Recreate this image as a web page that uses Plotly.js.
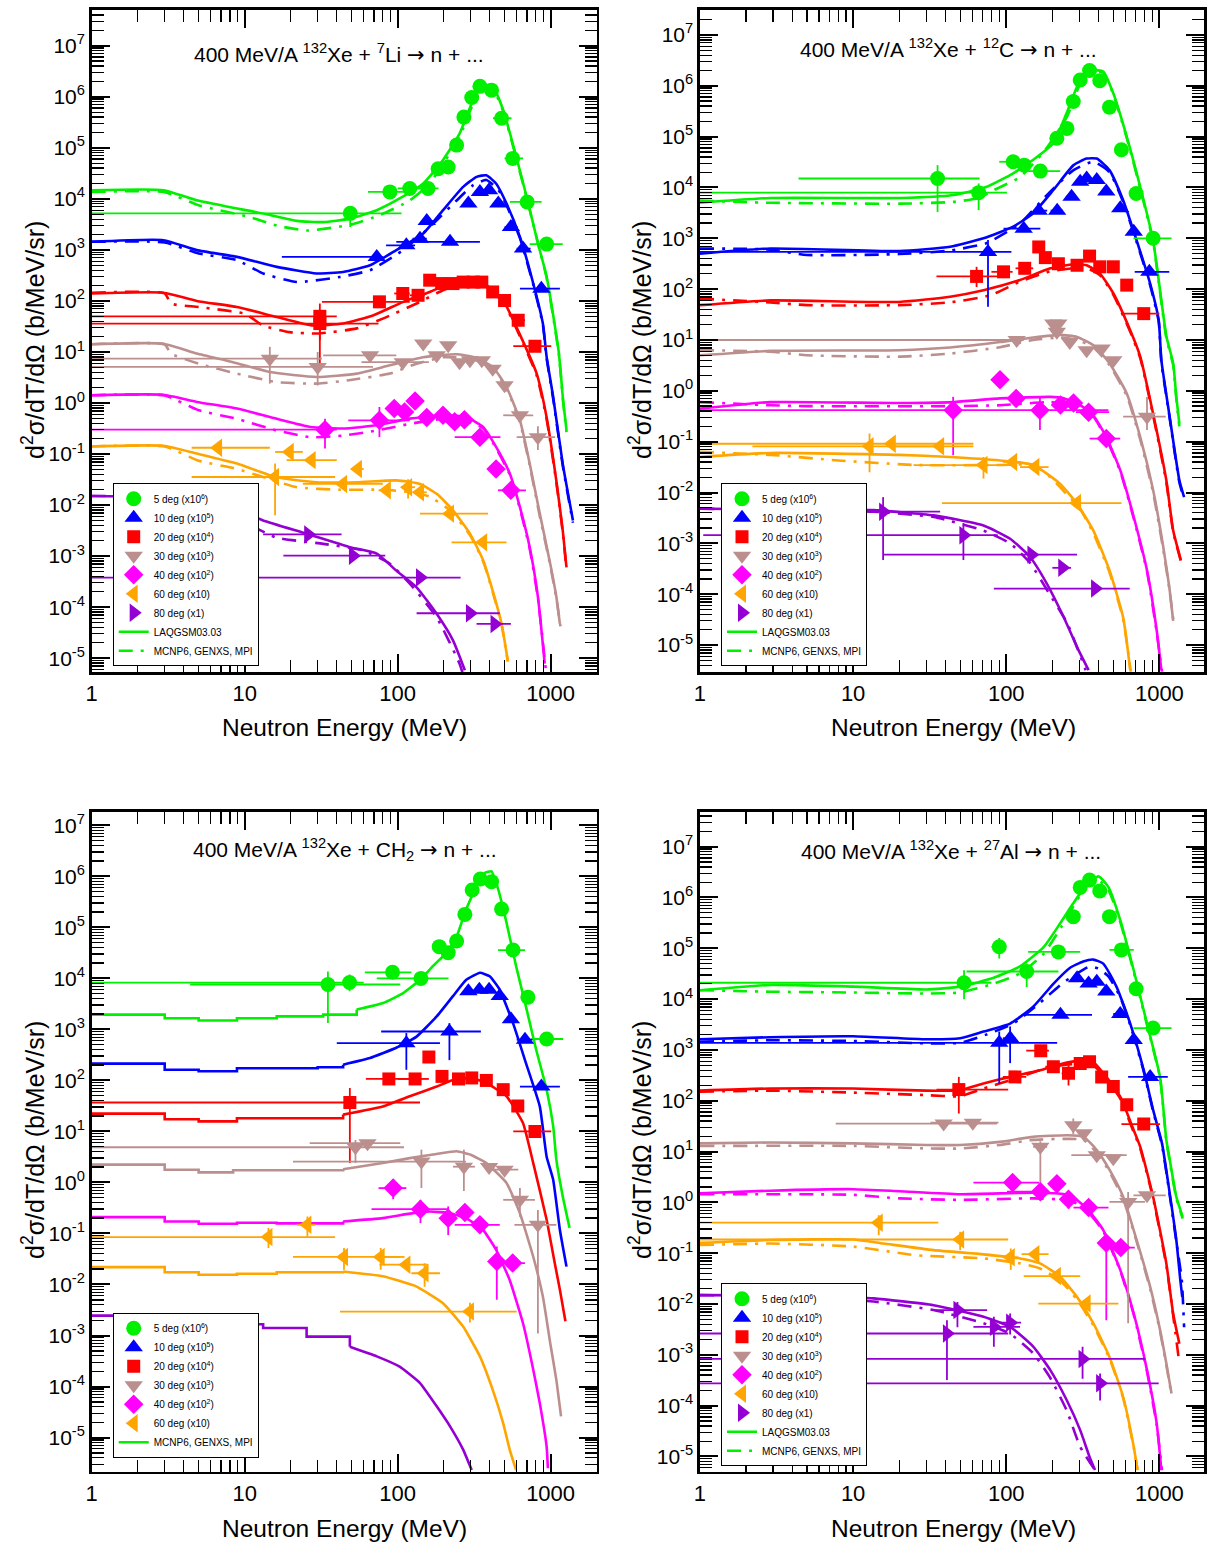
<!DOCTYPE html>
<html><head><meta charset="utf-8">
<script src="https://cdn.plot.ly/plotly-3.0.1.min.js"></script>
<style>html,body{margin:0;padding:0;background:#fff;}#chart{width:1210px;height:1543px;}</style>
</head><body><div id="chart"></div>
<script>
// ---------- tick labels ----------
const X_TICKS = [1, 10, 100, 1000];
const X_TICK_TEXT = ['1', '10', '100', '1000'];
const Y_TICKS = [1e-5,1e-4,1e-3,1e-2,1e-1,1,1e1,1e2,1e3,1e4,1e5,1e6,1e7];
const Y_TICK_TEXT = ['10<sup>-5</sup>','10<sup>-4</sup>','10<sup>-3</sup>','10<sup>-2</sup>','10<sup>-1</sup>','10<sup>0</sup>','10<sup>1</sup>','10<sup>2</sup>','10<sup>3</sup>','10<sup>4</sup>','10<sup>5</sup>','10<sup>6</sup>','10<sup>7</sup>'];
const SERIES_LABELS = ['5 deg (x10<sup>6</sup>)','10 deg (x10<sup>5</sup>)','20 deg (x10<sup>4</sup>)','30 deg (x10<sup>3</sup>)','40 deg (x10<sup>2</sup>)','60 deg (x10)','80 deg (x1)'];
const ARROW = '<span style="font-family:DejaVu Sans">→</span>';
const PANEL_TITLES = ['400 MeV/A <sup>132</sup>Xe + <sup>7</sup>Li ' + ARROW + ' n + ...','400 MeV/A <sup>132</sup>Xe + <sup>12</sup>C ' + ARROW + ' n + ...','400 MeV/A <sup>132</sup>Xe + CH<sub>2</sub> ' + ARROW + ' n + ...','400 MeV/A <sup>132</sup>Xe + <sup>27</sup>Al ' + ARROW + ' n + ...'];

// ---------- data: rows [E, value, E_low, E_high, value_low, value_high] ----------
// 7Li
const LI_D5 = [[49,5.2e3,1,106,2.8e3,6.9e3],[89,1.37e4,64,120],[120,1.6e4,100,145],[158,1.6e4,135,185],[184,3.9e4,165,200],[214,4.2e4,195,235],[243,1.13e5,225,265],[271,4.0e5,255,290],[305,9.7e5,285,330],[345,1.6e6,320,375],[411,1.35e6,380,445],[478,3.8e5,420,555],[565,6.2e4,500,660],[703,8.7e3,542,873],[942,1.3e3,730,1200]];
const LI_D10 = [[73,730,17.5,80],[114,1.23e3,84,130],[140,1.66e3,125,155],[155,3.7e3,145,170],[220,1.44e3,98,345],[290,8.1e3,270,310],[345,1.37e4,320,370],[396,1.48e4,370,420],[455,8.1e3,425,490],[550,2.8e3,500,610],[660,1.06e3,600,740],[870,174,630,1150]];
const LI_D20 = [[31,50,1,40,17,89],[31,36,1,75,5,50],[76,96,32,120],[108,140,95,120],[136,129,120,150],[162,255,150,175],[194,219,180,210],[230,219,210,250],[268,234,250,290],[312,234,290,335],[355,234,335,375],[418,150,390,450],[500,102,460,540],[614,42,560,680],[790,13,570,1010]];
const LI_D30 = [[14.6,7.4,1,32,2.4,12.6],[30,5.1,1,69,2.2,10],[66,8.6,32.6,98],[108,6.3,58,160],[147,14.6,135,160],[180,8.6,160,200],[214,13.5,200,230],[254,6.3,235,275],[297,6.9,275,320],[355,6.9,330,380],[418,4.7,390,450],[500,2.24,460,540],[630,0.575,490,770],[826,0.214,600,1070,0.12,0.35]];
const LI_D40 = [[33.5,0.30,1,40,0.128,0.49],[76,0.457,47.6,120,0.215,0.835],[95,0.78,88,105],[111,0.67,100,125],[130,1.1,120,140],[155,0.52,140,170],[198,0.575,175,220],[236,0.43,220,255],[273,0.47,255,295],[345,0.214,236,470],[440,0.051,400,485],[550,0.0195,453,690]];
const LI_D60 = [[6.7,0.133,4.5,14.6],[19.7,0.11,15.8,24],[27.4,0.076,18.8,40],[55,0.051,50,60],[15.8,0.0355,4.5,39,0.0063,0.065],[44,0.026,24,80],[85,0.0195,75,95],[117,0.0224,105,130,0.0135,0.032],[140,0.0178,125,155],[220,6.8e-3,140,390],[362,1.86e-3,225,515]];
const LI_D80 = [[26,2.66e-3,13.2,43],[51,1.02e-3,17.9,83],[140,3.8e-4,1,258],[297,7.6e-5,133,465],[430,4.7e-5,328,550]];
const LI_L5 = [[1,1.47e4],[2.94,1.48e4],[4.86,9.4e3],[13.9,5.0e3],[21.9,3.7e3],[32.6,3.5e3],[48.7,4.1e3],[73,6.0e3],[108,1.1e4],[147,2.0e4],[198,5.8e4],[254,1.9e5],[312,8.7e5],[362,1.7e6],[418,1.6e6],[490,5.5e5],[581,9.0e4],[697,1.1e4],[826,1.35e3],[942,300],[1130,10],[1208,1.1],[1271,0.29]];
const LI_L10 = [[1,1.44e3],[2.94,1.55e3],[4.86,990],[8.9,730],[16.2,465],[29.5,345],[44,370],[66,500],[98,990],[147,2.1e3],[198,6.0e3],[268,1.72e4],[328,2.7e4],[380,2.9e4],[440,2.0e4],[515,8.1e3],[630,1.8e3],[770,220],[890,36],[942,8],[1040,1.3],[1200,0.065],[1400,5e-3]];
const LI_L20 = [[1,140],[2.94,145],[4.86,100],[8.9,76],[16.2,48.5],[28,33],[44,36],[69,52],[108,95],[162,150],[230,234],[297,263],[380,204],[490,102],[600,30],[810,3.8],[940,0.54],[1090,0.03],[1200,3.2e-3],[1270,6e-4]];
const LI_L30 = [[1,14.2],[2.94,14.5],[4.86,9.3],[8.4,6.3],[14.6,4.05],[29.5,3.24],[54,3.77],[89,5.5],[147,7.9],[243,9.0],[318,7.9],[418,5.1],[515,2.04],[630,0.46],[730,0.065],[850,6.8e-3],[995,7e-4],[1090,1.6e-4],[1150,4.7e-5]];
const LI_L40 = [[1,1.42],[2.94,1.45],[4.86,1.05],[8.9,0.78],[16.2,0.49],[27,0.34],[44,0.316],[73,0.366],[120,0.494],[198,0.575],[280,0.53],[362,0.34],[440,0.138],[540,0.042],[630,9.1e-3],[730,1.5e-3],[826,1.6e-4],[915,7.8e-6]];
const LI_L60 = [[1,0.141],[2.94,0.145],[4.86,0.102],[8.9,0.065],[16.2,0.035],[29.5,0.028],[54,0.028],[98,0.0305],[140,0.026],[180,0.0166],[230,7.9e-3],[297,2.75e-3],[362,8.3e-4],[418,2.1e-4],[478,4.7e-5],[525,8.9e-6]];
const LI_L80 = [[1,0.0151],[3,0.0141],[5,0.011],[10,7e-3],[13.2,5.0e-3],[25.4,2.75e-3],[48.7,1.5e-3],[73,1.12e-3],[98,5.2e-4],[133,2.45e-4],[180,7.4e-5],[230,2.24e-5],[275,5.8e-6]];
const LI_M5 = [[1,1.37e4],[3,1.35e4],[5,7.5e3],[10.8,4.4e3],[16.2,3.0e3],[25.4,2.4e3],[48.7,3.1e3],[76.5,4.8e3],[120,9.3e3],[162,2.0e4],[200,5.0e4],[255,1.7e5],[310,7.0e5],[360,1.4e6],[415,1.5e6],[490,5.2e5],[580,8.5e4],[700,1.0e4],[830,1.3e3],[940,290],[1130,9.5],[1210,1.0],[1270,0.27]];
const LI_M10 = [[1,1.44e3],[3,1.4e3],[5,850],[8.9,630],[13.2,345],[21.9,235],[42,295],[66,400],[108,980],[162,2.8e3],[243,9.3e3],[312,1.86e4],[380,2.35e4],[455,1.5e4],[515,7.5e3],[630,1.7e3],[770,210],[890,34],[942,7.5],[1040,1.2],[1200,0.06],[1400,4.5e-3]];
const LI_M20 = [[1,145],[3,140],[3.3,89],[5,76],[10,56],[13.2,33],[19.7,24.5],[30,23],[54,29],[80,45],[133,89],[198,162],[268,219],[330,200],[380,185],[490,95],[600,28],[810,3.5],[940,0.5],[1090,0.028],[1200,3e-3],[1270,5.5e-4]];
const LI_M30 = [[1,14.2],[3,14],[3.3,9.3],[5,5.9],[8.9,3.77],[16.2,2.57],[30,2.4],[48,2.8],[89,3.77],[133,5.9],[200,7.9],[300,7.4],[418,4.8],[515,1.9],[630,0.42],[730,0.06],[850,6e-3],[995,6.5e-4],[1090,1.5e-4],[1160,4.2e-5]];
const LI_M40 = [[1,1.42],[3,1.4],[5,0.72],[8.9,0.49],[16.2,0.29],[27,0.214],[44,0.23],[73,0.29],[120,0.39],[198,0.49],[270,0.46],[362,0.32],[440,0.13],[540,0.04],[630,8.5e-3],[730,1.4e-3],[826,1.5e-4],[930,6e-6]];
const LI_M60 = [[1,0.141],[3,0.14],[5,0.074],[8.9,0.051],[13.2,0.0355],[21.9,0.0224],[42,0.02],[80,0.02],[120,0.018],[160,0.0148],[220,7.9e-3],[297,2.6e-3],[362,7.9e-4],[418,2e-4],[478,4.5e-5],[525,8.5e-6]];
const LI_M80 = [[1,0.0151],[3,0.014],[5,9.5e-3],[10,4.5e-3],[16.2,2.3e-3],[32.6,1.74e-3],[59.5,1.29e-3],[89,7.1e-4],[120,2.9e-4],[180,6.3e-5],[254,7.8e-6],[280,3e-6]];

// 12C
const C_D5 = [[35.6,1.5e4,4.4,67,3.3e3,2.75e4],[66,7.9e3,1,101,3.6e3,1.2e4],[111,3.2e4,90,125],[131,2.75e4,120,145],[167,2.1e4,136,225],[214,9.3e4,200,230],[249,1.45e5,235,265],[274,4.9e5,260,290],[304,1.3e6,290,320],[350,2.0e6,330,370],[408,1.26e6,385,430],[472,3.8e5,450,495],[565,5.5e4,530,600],[705,7.6e3,660,750],[910,1.0e3,677,1200]];
const C_D10 = [[76,540,1,108,45,930],[130,1.55e3,96,167],[163,3.5e3,150,185],[215,3.5e3,195,235],[267,6.6e3,245,285],[304,1.29e4,285,320],[335,1.5e4,320,355],[390,1.4e4,365,415],[450,8.3e3,420,480],[555,3.9e3,520,590],[680,1.35e3,640,720],[860,219,690,1160]];
const C_D20 = [[64,178,35,92,110,275],[96,219,80,110],[132,257,115,150],[163,676,155,172],[180,417,172,190],[219,316,200,240],[290,295,265,315],[350,447,330,370],[408,275,385,430],[500,275,470,530],[612,120,575,650],[790,33,565,1000]];
const C_D30 = [[117,10,1,130],[203,21,190,215],[219,21,210,230],[214,14.5,200,235],[260,9.1,240,280],[335,6.3,310,360],[420,6.8,390,450],[500,4.0,470,540],[830,0.31,580,1100,0.17,0.76]];
const C_D40 = [[45,0.417,1,465,0.054,0.76],[91,1.66,82,100],[116,0.71,105,128,0.5,1.0],[166,0.417,150,185,0.17,0.76],[226,0.525,205,250],[275,0.575,255,300],[345,0.38,285,470],[450,0.115,350,555]];
const C_D60 = [[12.8,0.081,2.2,35.4,0.025,0.145],[17.9,0.091,1,61],[37,0.081,16.6,61],[71,0.0347,24.8,91,0.0188,0.05],[111,0.04,95,125],[155,0.0316,123,189],[290,6.2e-3,38,565]];
const C_D80 = [[15.7,4.2e-3,13.6,37,4.7e-4,8.1e-3],[52.5,1.45e-3,1.05,88,4.7e-4,2.5e-3],[146,6.0e-4,15.7,290],[232,3.3e-4,200,265],[380,1.29e-4,83,640]];
const C_L5 = [[1,5.0e3],[2.88,6.2e3],[20.3,6.2e3],[45,7.1e3],[74,1.02e4],[111,1.9e4],[150,3.5e4],[203,7.4e4],[248,2.9e5],[304,1.3e6],[362,2.0e6],[430,1.9e6],[500,7.1e5],[612,1.0e5],[750,1.02e4],[910,910],[1110,12],[1230,3.5],[1290,0.76],[1350,0.23]];
const C_L10 = [[1,500],[2.88,630],[20,560],[43,680],[71,1.0e3],[111,1.7e3],[150,3.1e3],[203,8.9e3],[275,2.75e4],[335,3.7e4],[390,3.7e4],[472,2.2e4],[580,5.6e3],[710,910],[870,129],[990,24.5],[1030,4],[1160,0.35],[1350,0.0174],[1450,8.1e-3]];
const C_L20 = [[1,48.4],[2.88,60],[20,56],[43,71],[71,95],[123,151],[194,257],[275,309],[335,295],[408,204],[500,83],[645,15.5],[750,4.7],[910,0.355],[1110,0.0174],[1230,1.8e-3],[1380,4.7e-4]];
const C_L30 = [[1,5.0],[2.88,6.1],[20,6.3],[43,7.1],[91,9.1],[150,11.2],[225,12.6],[290,11.5],[370,7.9],[472,3.5],[612,0.89],[750,0.123],[910,0.0112],[1060,8.5e-4],[1160,1.4e-4],[1230,3e-5]];
const C_L40 = [[1,0.447],[2.88,0.6],[20,0.575],[45,0.6],[91,0.71],[194,0.76],[240,0.71],[304,0.525],[370,0.331],[450,0.123],[555,0.0275],[680,3.3e-3],[830,2.95e-4],[960,1.95e-5],[1030,3.2e-6]];
const C_L60 = [[1,0.05],[2.88,0.06],[20,0.055],[43,0.05],[91,0.0427],[150,0.0347],[225,0.0148],[290,6.0e-3],[370,1.8e-3],[472,2.95e-4],[580,3.5e-5],[645,3.2e-6]];
const C_L80 = [[1,4.8e-3],[3,4.7e-3],[5,4.6e-3],[13.6,4.5e-3],[33.6,3.55e-3],[71,2.24e-3],[106,1.23e-3],[143,5.4e-4],[184,1.62e-4],[237,3.55e-5],[290,9.1e-6],[345,3.2e-6]];
const C_M5 = [[1,5.5e3],[2.88,5.0e3],[20.3,4.8e3],[45,5.2e3],[66,6.2e3],[83,8.9e3],[123,1.6e4],[180,5.5e4],[250,2.5e5],[304,1.1e6],[360,1.9e6],[430,1.8e6],[500,6.8e5],[612,9.5e4],[750,9.5e3],[910,850],[1110,11],[1230,3.2],[1290,0.7],[1350,0.2]];
const C_M10 = [[1,630],[2.88,600],[5,470],[20,490],[43,575],[74,800],[123,1.95e3],[180,6.6e3],[275,2.2e4],[370,3.2e4],[472,2.0e4],[580,5.2e3],[710,850],[870,120],[990,23],[1030,3.7],[1160,0.33],[1350,0.016],[1450,7.5e-3]];
const C_M20 = [[1,65],[2.88,55],[5,48.4],[20,48.4],[43,55],[79,76],[123,141],[194,224],[275,257],[335,257],[408,190],[500,78],[645,14.5],[750,4.4],[910,0.33],[1110,0.016],[1230,1.7e-3],[1380,4.5e-4]];
const C_M30 = [[1,6.3],[2.88,5.9],[5,5.0],[20,4.7],[43,5.4],[91,7.2],[150,10],[225,11.2],[290,10],[370,7.2],[472,3.2],[612,0.8],[750,0.11],[910,0.01],[1060,7.5e-4],[1160,1.3e-4],[1240,2.7e-5]];
const C_M40 = [[1,0.6],[2.88,0.52],[5,0.5],[45,0.5],[91,0.52],[194,0.6],[270,0.525],[370,0.31],[450,0.115],[555,0.026],[680,3.1e-3],[830,2.8e-4],[960,1.8e-5],[1040,3e-6]];
const C_M60 = [[1,0.063],[2.88,0.055],[8,0.0427],[26,0.0347],[90,0.0347],[150,0.0347],[194,0.02],[250,9e-3],[300,5e-3],[370,1.6e-3],[472,2.7e-4],[580,3.2e-5],[650,3e-6]];
const C_M80 = [[1,4.8e-3],[5,4.5e-3],[13.6,4.2e-3],[33.6,3.3e-3],[71,1.78e-3],[106,1.0e-3],[143,4.1e-4],[190,1.05e-4],[250,2.7e-5],[330,3.2e-6]];

// CH2
const CH_D5 = [[35,7.6e3,4.4,104,1.33e3,1.37e4],[48.5,8.3e3,1,60,5.6e3,1.2e4],[92.6,1.32e4,61,123],[142,1.0e4,73,215],[187,4.2e4,175,200],[214,3.2e4,200,230],[243,5.4e4,230,260],[275,1.8e5,260,290],[307,5.4e5,290,325],[347,8.9e5,325,370],[411,7.9e5,385,440],[478,2.3e5,450,505],[568,3.6e4,453,680],[710,4.3e3,640,790],[942,650,750,1210]];
const CH_D10 = [[114,537,40,189,162,850],[218,912,78,350,250,1.33e3],[290,5.6e3,270,310],[342,6.0e3,320,370],[396,6.0e3,370,425],[465,4.5e3,430,500],[550,1.58e3,520,590],[680,631,600,760],[870,76,630,1150]];
const CH_D20 = [[48.7,37,1,140,2.4,71],[87.6,107,62,120],[130,107,100,160],[160,288,150,170],[195,120,180,210],[250,107,230,270],[305,112,285,325],[380,100,360,400],[490,66,460,520],[610,31.6,570,650],[790,10,570,1010]];
const CH_D30 = [[53,4.9,1,110,2.4,6.8],[63.5,5.9,26.6,104],[143,2.57,20.7,280,0.78,4.4],[271,2.04,230,320,0.68,4.4],[396,2.0,370,425],[500,1.78,380,615],[630,0.457,490,790,0.214,0.78],[826,0.148,580,1090,1.1e-3,0.29]];
const CH_D40 = [[93.5,0.776,75,114,0.47,1.15],[141,0.30,67.5,215,0.16,0.457],[214,0.2,195,235,0.093,0.34],[275,0.257,255,295],[345,0.148,236,465],[445,0.0282,395,500,5e-3,0.0556],[565,0.0263,453,680]];
const CH_D60 = [[14.3,0.085,1,39,0.052,0.128],[25.7,0.148,22,29,0.087,0.215],[44.6,0.0347,20.7,104,0.0195,0.052],[77.5,0.0347,73,111,0.0195,0.052],[114,0.0245,76,158],[150,0.0166,123,189,9e-3,0.026],[297,2.95e-3,42,600,1.8e-3,4.4e-3]];
const CH_M5 = [[1,1.95e3],[3,1.66e3],[5,1.5e3],[8.9,1.66e3],[16.2,1.8e3],[32.6,1.95e3],[54,2.45e3],[80.6,3.3e3],[108,5.1e3],[140,9.3e3],[170,1.74e4],[209,3.2e4],[243,6.6e4],[280,2.24e5],[328,6.3e5],[370,1.17e6],[411,1.26e6],[455,5.5e5],[515,1.23e5],[595,1.74e4],[690,2.8e3],[805,400],[942,66],[1040,12.6],[1090,2.8],[1200,0.54],[1330,0.129]];
const CH_M10 = [[1,214],[3,162],[5,151],[8.9,174],[16.2,174],[30,182],[44,204],[66,275],[98,437],[133,724],[180,1.8e3],[230,4.5e3],[280,9.3e3],[345,1.29e4],[400,1.1e4],[465,6.0e3],[568,1.33e3],[690,219],[850,31],[942,3.2],[1040,1.12],[1150,0.117],[1270,0.0224]];
const CH_M20 = [[1,22.4],[3,17.4],[5,15.8],[8.9,18.2],[20,18.2],[44,21.4],[80,31],[120,49],[180,76],[230,102],[305,112],[380,89],[515,49],[660,14.6],[770,2.4],[942,0.186],[1065,0.026],[1150,7.9e-3],[1250,1.9e-3]];
const CH_M30 = [[1,2.24],[3,1.78],[5,1.58],[8.4,1.74],[16.2,1.74],[44,1.82],[80,2.4],[120,3.0],[180,3.63],[243,4.1],[300,3.5],[380,2.4],[515,0.98],[630,0.25],[770,0.035],[890,5.8e-3],[995,7e-4],[1090,1.35e-4],[1170,2.6e-5]];
const CH_M40 = [[1,0.209],[3,0.172],[5,0.155],[8.9,0.162],[16.2,0.158],[44,0.172],[80,0.2],[120,0.245],[162,0.27],[220,0.25],[280,0.2],[362,0.117],[440,0.048],[540,0.0123],[660,1.74e-3],[770,2.14e-4],[850,4.7e-5],[942,6.6e-6],[960,2.5e-6]];
const CH_M60 = [[1,0.0219],[3,0.0174],[5,0.0155],[8.9,0.0162],[16.2,0.0174],[44,0.018],[80,0.0145],[133,9.1e-3],[198,4.3e-3],[268,1.5e-3],[345,3.9e-4],[418,8.7e-5],[490,1.9e-5],[540,5.8e-6],[595,2.3e-6]];
const CH_M80 = [[1,2.45e-3],[3,2.35e-3],[5,2.1e-3],[10,1.66e-3],[13.2,1.4e-3],[25.4,9.5e-4],[48.7,6.0e-4],[73,3.9e-4],[103,2.45e-4],[140,1.17e-4],[180,4.1e-5],[220,1.66e-5],[268,5.8e-6],[305,2.3e-6]];

// 27Al
const AL_D5 = [[53,2.1e4,1,80,1.0e4,3.7e4],[90,1.07e5,80,100,6.3e4,1.6e5],[136,3.5e4,55,219,1.74e4,5.0e4],[219,8.5e4,139,304],[274,4.2e5,260,290],[304,1.58e6,290,320],[350,2.2e6,330,370],[408,1.35e6,385,430],[472,4.2e5,450,495],[565,9.3e4,472,680],[705,1.6e4,660,750],[910,2.7e3,677,1200]];
const AL_D10 = [[90,1.38e3,1,215,219,2.3e3],[106,1.7e3,95,115,550,2.9e3],[226,4.9e3,126,363],[290,2.57e4,270,310],[345,2.04e4,325,365],[390,2.2e4,370,415],[450,1.41e4,420,480],[555,5.1e3,500,610],[680,1.57e3,640,730],[870,295,625,1135]];
const AL_D20 = [[49,166,35,103,56,295],[114,295,95,135],[168,966,135,190],[203,468,180,225],[255,347,230,280,200,500],[304,543,285,325],[350,589,330,370],[420,295,395,445],[500,190,470,530],[612,83,575,650],[790,34.7,565,1010]];
const AL_D30 = [[39,35.5,7.7,87],[60.5,37,32,89],[167,12.4,150,185,1.29,16],[274,33,255,295,22,45],[320,23,300,340],[390,8.5,266,612],[500,7.4,470,530],[625,1.02,472,805,4.2e-3,1.6],[830,1.38,677,1100]];
const AL_D40 = [[110,2.45,61,164,1.9,3.2],[214,2.34,200,230,1.5,3.2],[167,1.62,101,167,1.1,2.3],[255,1.15,235,275,0.75,1.6],[345,0.79,275,465],[450,0.158,420,480,4.8e-3,0.214],[560,0.129,452,690]];
const AL_D60 = [[14.7,0.398,1,36,0.227,0.56],[50,0.186,1,103,0.115,0.264],[107,0.083,95,120,0.047,0.124],[155,0.0955,126,189],[214,0.0355,130,304],[335,0.0102,162,540]];
const AL_D80 = [[48,7.6e-3,33.5,75,3.5e-3,0.011],[41,2.63e-3,1,103,3.2e-4,4.8e-3],[83,3.55e-3,61,123,1.45e-3,5.6e-3],[106,4.3e-3,90,125,2.5e-3,6.5e-3],[315,8.3e-4,1,805,3.4e-4,1.45e-3],[410,2.75e-4,1,990,1.26e-4,4.3e-4]];
const AL_L5 = [[1,1.5e4],[2.88,1.9e4],[10,1.76e4],[30,1.55e4],[50,1.76e4],[82,2.6e4],[123,4.4e4],[176,1.07e5],[225,3.1e5],[274,7.7e5],[335,1.78e6],[400,2.6e6],[465,1.6e6],[555,3.6e5],[680,3.7e4],[830,3.3e3],[1010,295],[1110,17],[1160,7.9],[1290,1.29],[1420,0.52]];
const AL_L10 = [[1,1.62e3],[2.88,1.78e3],[10,1.86e3],[30,1.62e3],[50,1.7e3],[71,2.3e3],[106,3.3e3],[150,7.1e3],[203,2.0e4],[260,4.1e4],[318,5.5e4],[370,6.0e4],[430,5.0e4],[525,1.74e4],[645,3.3e3],[790,400],[910,66],[1040,14.5],[1160,1.74],[1290,0.182],[1370,0.0295],[1410,0.0138]];
const AL_L20 = [[1,158],[2.88,174],[10,174],[30,158],[50,162],[71,219],[106,295],[166,398],[225,525],[304,617],[370,575],[450,295],[555,120],[680,26.3],[750,12.4],[910,1.29],[1110,0.063],[1230,6.5e-3],[1350,1.66e-3]];
const AL_L30 = [[1,14.5],[2.88,15.1],[10,14.5],[30,13.5],[50,13.5],[91,15.5],[150,19.5],[250,21],[320,19.5],[390,10.7],[472,4.4],[580,1.29],[710,0.182],[870,0.022],[1010,3.1e-3],[1110,6.8e-4],[1200,1.74e-4]];
const AL_L40 = [[1,1.51],[2.88,1.7],[10,1.82],[20,1.66],[50,1.45],[150,1.55],[240,1.45],[290,1.11],[350,0.66],[430,0.285],[555,0.047],[680,6.5e-3],[830,5e-4],[960,4.5e-5],[1030,5.4e-6]];
const AL_L60 = [[1,0.16],[2.88,0.182],[10,0.186],[15.8,0.155],[33.5,0.115],[71,0.095],[123,0.079],[166,0.063],[225,0.0343],[290,0.0138],[370,4.2e-3],[472,9.1e-4],[580,1.48e-4],[680,1.55e-5],[720,5.4e-6]];
const AL_L80 = [[1,0.015],[3,0.0148],[5,0.0145],[10,0.0135],[13.6,0.0129],[33.5,9.5e-3],[71,5.6e-3],[106,3.55e-3],[150,1.45e-3],[194,5e-4],[248,1.29e-4],[304,3.3e-5],[350,9.8e-6],[380,5.4e-6]];
const AL_M5 = [[1,1.5e4],[2.88,1.4e4],[10,1.35e4],[30,1.29e4],[50,1.35e4],[82,2.0e4],[123,3.2e4],[176,7.9e4],[230,2.7e5],[304,1.12e6],[350,2.0e6],[400,2.2e6],[465,1.4e6],[555,3.3e5],[680,3.4e4],[830,3.1e3],[1010,280],[1110,16],[1160,7.2],[1290,1.2],[1420,0.48]];
const AL_M10 = [[1,1.45e3],[2.88,1.55e3],[10,1.5e3],[30,1.35e3],[50,1.38e3],[74,2.0e3],[111,3.3e3],[165,8.3e3],[230,2.0e4],[290,3.2e4],[350,4.4e4],[400,4.0e4],[465,2.8e4],[555,1.1e4],[645,3.1e3],[790,380],[910,62],[1040,13.5],[1160,1.6],[1290,0.17],[1400,0.03],[1450,3.5e-3]];
const AL_M20 = [[1,151],[2.88,158],[10,145],[30,129],[50,123],[71,174],[115,275],[166,398],[230,501],[300,537],[370,500],[450,270],[555,110],[680,24],[750,11.5],[910,1.2],[1110,0.058],[1230,6e-3],[1350,6.8e-4]];
const AL_M30 = [[1,12.9],[10,12.9],[30,11.5],[50,11.5],[91,13.5],[150,17],[250,17.8],[320,17],[390,9.5],[472,4.0],[580,1.15],[710,0.17],[870,0.02],[1010,2.9e-3],[1110,6.3e-4],[1200,1.6e-4]];
const AL_M40 = [[1,1.45],[10,1.41],[20,1.2],[50,1.12],[150,1.2],[240,1.12],[290,0.95],[350,0.6],[430,0.27],[555,0.045],[680,6.2e-3],[830,4.7e-4],[960,4.2e-5],[1040,5.4e-6]];
const AL_M60 = [[1,0.145],[2.88,0.155],[10,0.135],[26,0.091],[71,0.079],[123,0.063],[166,0.05],[225,0.029],[290,0.0122],[370,3.8e-3],[472,8.5e-4],[580,1.4e-4],[680,1.5e-5],[720,5.4e-6]];
const AL_M80 = [[1,0.015],[5,0.014],[13.6,0.0112],[33.5,7.6e-3],[71,4.2e-3],[106,2.6e-3],[150,1.07e-3],[194,3.5e-4],[248,8.1e-5],[304,1.55e-5],[380,5.4e-6]];

// ---------- styles ----------
const FONT = 'Liberation Sans, Arial, Helvetica, sans-serif';
const STY = [
  {c:'#00f000', s:'circle', z:15},
  {c:'#0000ff', s:'triangle-up', z:16},
  {c:'#ff0000', s:'square', z:13},
  {c:'#bc8f8f', s:'triangle-down', z:16},
  {c:'#ff00ff', s:'diamond', z:15},
  {c:'#ffa500', s:'triangle-left', z:16},
  {c:'#9400d3', s:'triangle-right', z:16}
];
const DASH = '14px,8px,3px,8px';
const STEP_LIMIT = 40; // histogram steps drawn as stairs below this energy

const PANELS = [
  {ax:'', leg:'legend', data:[LI_D5,LI_D10,LI_D20,LI_D30,LI_D40,LI_D60,LI_D80], laq:[LI_L5,LI_L10,LI_L20,LI_L30,LI_L40,LI_L60,LI_L80], mc:[LI_M5,LI_M10,LI_M20,LI_M30,LI_M40,LI_M60,LI_M80], step:false},
  {ax:'2', leg:'legend2', data:[C_D5,C_D10,C_D20,C_D30,C_D40,C_D60,C_D80], laq:[C_L5,C_L10,C_L20,C_L30,C_L40,C_L60,C_L80], mc:[C_M5,C_M10,C_M20,C_M30,C_M40,C_M60,C_M80], step:false},
  {ax:'3', leg:'legend3', data:[CH_D5,CH_D10,CH_D20,CH_D30,CH_D40,CH_D60], laq:null, mc:[CH_M5,CH_M10,CH_M20,CH_M30,CH_M40,CH_M60,CH_M80], step:true},
  {ax:'4', leg:'legend4', data:[AL_D5,AL_D10,AL_D20,AL_D30,AL_D40,AL_D60,AL_D80], laq:[AL_L5,AL_L10,AL_L20,AL_L30,AL_L40,AL_L60,AL_L80], mc:[AL_M5,AL_M10,AL_M20,AL_M30,AL_M40,AL_M60,AL_M80], step:false}
];

const traces = [];
PANELS.forEach(p => {
  const xa = 'x' + p.ax, ya = 'y' + p.ax;
  if (p.laq) p.laq.forEach((c, i) => traces.push({
    type:'scatter', mode:'lines', x:c.map(r=>r[0]), y:c.map(r=>r[1]), xaxis:xa, yaxis:ya, legend:p.leg,
    name:'LAQGSM03.03', showlegend:i===0, legendrank:100, hoverinfo:'skip',
    line:{color:STY[i].c, width:2.6, shape:'spline', smoothing:0.5}
  }));
  p.mc.forEach((c, i) => {
    if (p.step) {
      let k = c.findIndex(r => r[0] > STEP_LIMIT);
      if (k < 0) k = c.length - 1;
      const lo = c.slice(0, k + 1), hi = c.slice(k);
      traces.push({type:'scatter', mode:'lines', x:lo.map(r=>r[0]), y:lo.map(r=>r[1]), xaxis:xa, yaxis:ya, legend:p.leg,
        name:'MCNP6, GENXS, MPI', showlegend:i===0, legendrank:101, hoverinfo:'skip',
        line:{color:STY[i].c, width:2.6, shape:'hv'}});
      traces.push({type:'scatter', mode:'lines', x:hi.map(r=>r[0]), y:hi.map(r=>r[1]), xaxis:xa, yaxis:ya, legend:p.leg,
        name:'MCNP6, GENXS, MPI', showlegend:false, hoverinfo:'skip',
        line:{color:STY[i].c, width:2.6, shape:'spline', smoothing:0.4}});
    } else {
      traces.push({type:'scatter', mode:'lines', x:c.map(r=>r[0]), y:c.map(r=>r[1]), xaxis:xa, yaxis:ya, legend:p.leg,
        name:'MCNP6, GENXS, MPI', showlegend:i===0, legendrank:101, hoverinfo:'skip',
        line:{color:STY[i].c, width:2.6, dash:DASH, shape:'spline', smoothing:0.5}});
    }
  });
  p.data.forEach((d, i) => traces.push({
    type:'scatter', mode:'markers', x:d.map(r=>r[0]), y:d.map(r=>r[1]), xaxis:xa, yaxis:ya, legend:p.leg,
    name:SERIES_LABELS[i], legendrank:i+1, showlegend:true,
    marker:{symbol:STY[i].s, size:STY[i].z, color:STY[i].c, line:{width:0}},
    error_x:{type:'data', symmetric:false, array:d.map(r=>r[3]-r[0]), arrayminus:d.map(r=>r[0]-r[2]), color:STY[i].c, thickness:1.8, width:0},
    error_y:{type:'data', symmetric:false, array:d.map(r=>r.length>5 ? r[5]-r[1] : 0), arrayminus:d.map(r=>r.length>4 ? r[1]-r[4] : 0), color:STY[i].c, thickness:1.8, width:0}
  }));
});

function xax(domain, range, anchor) {
  return {type:'log', domain, range, anchor, tickmode:'array', tickvals:X_TICKS, ticktext:X_TICK_TEXT,
    ticks:'inside', ticklen:18, tickwidth:2, tickcolor:'#000', showline:true, linecolor:'#000', linewidth:2.6,
    mirror:'ticks', showgrid:false, zeroline:false, tickfont:{family:FONT, size:22, color:'#000'},
    minor:{ticks:'inside', ticklen:12, tickwidth:1.3, tickcolor:'#000', dtick:'D1', showgrid:false}};
}
function yax(domain, range, anchor) {
  return {type:'log', domain, range, anchor, tickmode:'array', tickvals:Y_TICKS, ticktext:Y_TICK_TEXT,
    ticks:'inside', ticklen:18, tickwidth:2, tickcolor:'#000', showline:true, linecolor:'#000', linewidth:2.6,
    mirror:'ticks', showgrid:false, zeroline:false, tickfont:{family:FONT, size:21, color:'#000'},
    minor:{ticks:'inside', ticklen:12, tickwidth:1.3, tickcolor:'#000', dtick:'D1', showgrid:false}};
}
function leg(x, y) {
  return {x, y, xref:'paper', yref:'paper', xanchor:'left', yanchor:'top', bgcolor:'#fff', bordercolor:'#000',
    borderwidth:1, font:{family:FONT, size:10, color:'#000'}, traceorder:'normal', tracegroupgap:0, itemwidth:30};
}
function ann(x, y, text, size, angle) {
  return {xref:'paper', yref:'paper', x:x/1210, y:1-y/1543, text, showarrow:false, textangle:angle||0,
    xanchor:'center', yanchor:'middle', font:{family:FONT, size, color:'#000'}};
}
const YT = 'd<sup>2</sup>σ/dT/dΩ (b/MeV/sr)';
const XT = 'Neutron Energy (MeV)';

const layout = {
  width:1210, height:1543, margin:{l:0, r:0, t:0, b:0}, paper_bgcolor:'#fff', plot_bgcolor:'#fff',
  font:{family:FONT, color:'#000'}, showlegend:true, hovermode:false,
  xaxis:  xax([0.0758, 0.4931], [0, 3.301], 'y'),
  yaxis:  yax([0.5645, 0.9935], [-5.27, 7.70], 'x'),
  xaxis2: xax([0.5785, 0.9950], [0, 3.291], 'y2'),
  yaxis2: yax([0.5645, 0.9935], [-5.53, 7.49], 'x2'),
  xaxis3: xax([0.0758, 0.4931], [0, 3.301], 'y3'),
  yaxis3: yax([0.0462, 0.4740], [-5.67, 7.27], 'x3'),
  xaxis4: xax([0.5785, 0.9950], [0, 3.291], 'y4'),
  yaxis4: yax([0.0462, 0.4740], [-5.30, 7.69], 'x4'),
  legend:  leg(112.7/1210, 1-483.3/1543),
  legend2: leg(721/1210, 1-483.3/1543),
  legend3: leg(112.7/1210, 1-1312.7/1543),
  legend4: leg(721/1210, 1-1283.3/1543),
  annotations: [
    ann(339, 53, PANEL_TITLES[0], 21), ann(948, 48, PANEL_TITLES[1], 21),
    ann(345, 849, PANEL_TITLES[2], 21), ann(951, 850, PANEL_TITLES[3], 21),
    ann(33, 340, YT, 25, -90), ann(640, 340, YT, 25, -90),
    ann(33, 1140, YT, 25, -90), ann(640, 1140, YT, 25, -90),
    ann(344, 727, XT, 24.5), ann(953, 727, XT, 24.5),
    ann(344, 1528, XT, 24.5), ann(953, 1528, XT, 24.5)
  ]
};

Plotly.newPlot('chart', traces, layout, {staticPlot:true, displayModeBar:false});
</script></body></html>
